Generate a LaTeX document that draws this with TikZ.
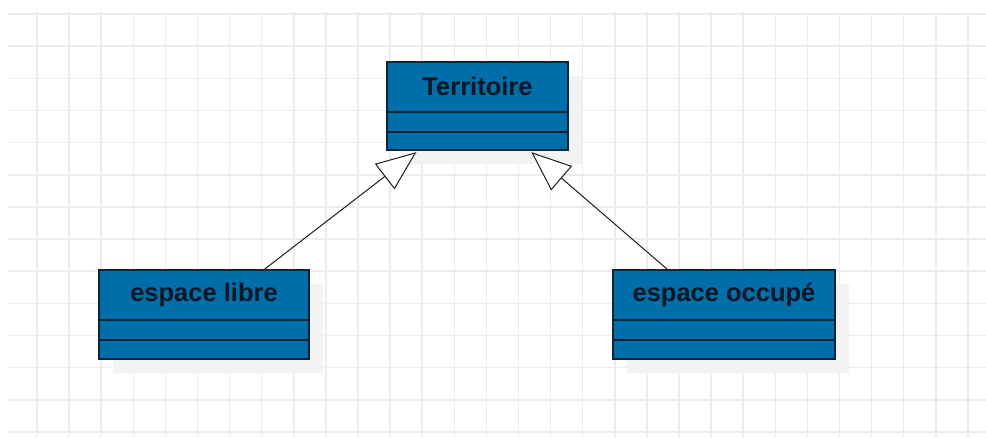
\documentclass[tikz,border=0pt]{standalone}
\usepackage{fontspec}
\setmainfont{Liberation Sans}
\usetikzlibrary{arrows.meta,calc}
\definecolor{gridc}{RGB}{236,236,236}
\definecolor{shadowc}{RGB}{243,243,243}
\definecolor{boxfill}{RGB}{0,110,168}
\definecolor{boxline}{RGB}{12,36,52}
\definecolor{txtc}{RGB}{8,22,36}
\definecolor{linec}{RGB}{30,30,30}
\tikzset{
  umlbox/.style={draw=boxline, line width=1.3pt, fill=boxfill, rectangle, inner sep=0pt},
  divider/.style={draw=boxline, line width=2.6pt},
  titletext/.style={font=\bfseries\fontsize{25.5}{28}\selectfont, text=txtc, inner sep=0pt},
  inherit/.style={draw=linec, line width=1pt, -{Triangle[length=40pt, width=32pt, fill=white, line width=1pt]}},
  shadowbox/.style={fill=shadowc}
}
\begin{document}
\begin{tikzpicture}[x=1pt, y=-1pt]
\useasboundingbox (0,0) rectangle (986,437);
\fill[white] (0,0) rectangle (986,437);
% grid
\foreach \k in {0,...,29} {
  \draw[gridc, line width=1.5pt] ({37+32.1*\k},12) -- ({37+32.1*\k},437);
}
\foreach \k in {0,...,13} {
  \draw[gridc, line width=1.5pt] (8,{14+32.15*\k}) -- (986,{14+32.15*\k});
}
% shadows
\fill[shadowbox] (401,76) rectangle (582,164);
\fill[shadowbox] (113,284) rectangle (323,373);
\fill[shadowbox] (627,284) rectangle (849,373);
% boxes
\node[umlbox, minimum width=181pt, minimum height=88pt] (terr) at (477.5,106) {};
\node[umlbox, minimum width=210pt, minimum height=89pt] (libre) at (204,314.5) {};
\node[umlbox, minimum width=222pt, minimum height=89pt] (occ) at (724,314.5) {};
% dividers
\foreach \b in {terr,libre,occ} {
  \draw[divider] ($(\b.north west)+(0.8,50.5)$) -- ($(\b.north east)+(-0.8,50.5)$);
  \draw[divider] ($(\b.north west)+(0.8,70.5)$) -- ($(\b.north east)+(-0.8,70.5)$);
  \draw[boxline, line width=1.3pt] (\b.north west) rectangle (\b.south east);
}
% titles
\node[titletext] (terrT) at ($(terr.north)+(0,25.5)$) {Territoire};
\node[titletext] (libreT) at ($(libre.north)+(0,25.5)$) {espace libre};
\node[titletext] (occT) at ($(occ.north)+(0,25.5)$) {espace occupé};
% connector endpoints
\coordinate (libreTop) at ($(libre.north west)+(166,0)$);
\coordinate (occTop) at ($(occ.north west)+(55,0)$);
\coordinate (terrL) at ($(terr.south west)+(30,1.5)$);
\coordinate (terrR) at ($(terr.south west)+(145,1.5)$);
\draw[inherit] (libreTop) -- (terrL);
\draw[inherit] (occTop) -- (terrR);
\end{tikzpicture}
\end{document}
